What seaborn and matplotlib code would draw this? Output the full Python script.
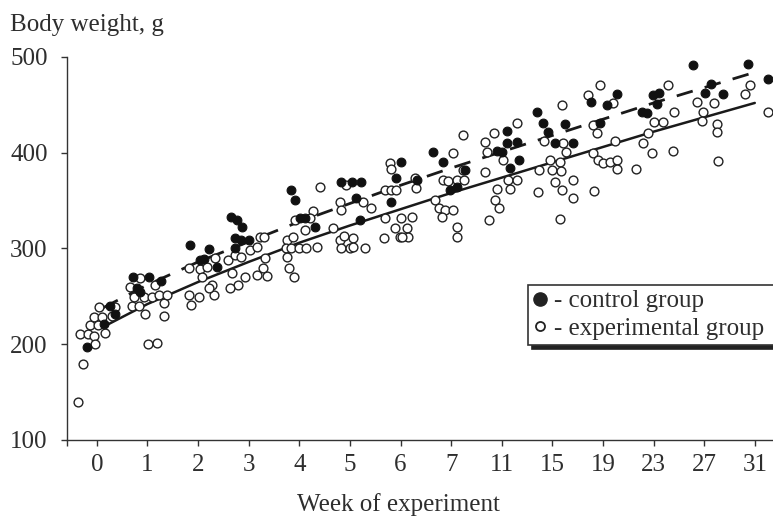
import pandas as pd
import seaborn as sns
import matplotlib.pyplot as plt
from matplotlib.lines import Line2D

# week labels, evenly spaced on the x axis
weeks = ['0', '1', '2', '3', '4', '5', '6', '7', '11', '15', '19', '23', '27', '31']

# control group (filled dots): position along the week axis and body weight
control_pos = [-0.20, 0.14, 0.26, 0.36,
               0.71, 1.03, 0.79, 0.85, 1.26,
               1.84, 2.21, 2.11, 2.04, 2.37,
               2.65, 2.77, 2.87, 2.73, 2.85, 3.00, 2.73,
               3.83, 3.91, 4.01, 4.11, 4.31,
               4.82, 5.04, 5.22, 5.12, 5.20,
               5.81, 5.91, 6.01, 6.32,
               6.64, 6.84, 7.27, 6.98, 7.11,
               7.91, 8.00, 8.10, 8.10, 8.30, 8.34, 8.16,
               8.70, 8.81, 8.91, 9.25, 9.05, 9.41,
               9.94, 9.76, 10.08, 10.28,
               10.77, 10.87, 10.99, 11.11, 11.07,
               11.78, 12.02, 12.13, 12.37,
               12.87, 13.26]
control_wt = [197, 221, 240, 232,
              270, 270, 259, 255, 266,
              304, 299, 289, 288, 281,
              333, 330, 322, 311, 309, 309, 300,
              361, 351, 332, 332, 322,
              369, 369, 369, 353, 330,
              349, 374, 390, 372,
              401, 390, 382, 361, 364,
              402, 401, 423, 410, 411, 392, 384,
              443, 431, 422, 430, 410, 410,
              431, 453, 450, 461,
              443, 441, 460, 462, 451,
              492, 462, 472, 461,
              493, 477]

# experimental group (open dots)
exp_pos = [-0.38, -0.28, -0.34, -0.18, -0.06, -0.04, -0.14, -0.06, 0.02, 0.10, 0.04, 0.16, 0.30, 0.36,
           0.65, 0.73, 0.69, 0.85, 0.93, 0.83, 0.95, 1.09, 1.15, 1.23, 1.32, 1.32, 1.01, 1.19, 1.38,
           1.82, 1.86, 2.02, 1.82, 2.04, 2.17, 2.33, 2.31, 2.27, 2.08, 2.21,
           2.59, 2.73, 2.85, 3.02, 3.16, 3.22, 3.30, 3.32, 3.28, 3.16, 3.36, 2.92, 2.79, 2.63, 2.67,
           3.75, 3.87, 3.74, 3.83, 3.99, 4.13, 4.35, 3.75, 3.79, 3.89, 4.11, 4.27, 4.21, 3.91, 4.41,
           4.80, 4.82, 4.66, 4.80, 4.88, 5.06, 4.82, 5.00, 5.06, 5.30, 4.92, 5.26, 5.42, 5.67,
           5.79, 5.81, 5.69, 5.81, 5.91, 5.89, 5.99, 6.01, 5.69, 6.23, 6.13, 6.15, 6.03, 6.30, 6.28,
           6.84, 6.94, 7.11, 7.23, 7.25, 7.04, 7.23, 6.68, 6.76, 6.88, 7.04, 6.82, 7.11, 7.11,
           7.67, 7.71, 7.85, 8.30, 8.02, 7.67, 8.12, 8.30, 7.91, 8.16, 7.87, 7.94, 7.75,
           9.19, 8.83, 9.21, 9.27, 8.95, 9.15, 8.74, 8.99, 9.17, 9.05, 9.41, 9.19, 8.72, 9.41, 9.15,
           9.70, 9.94, 10.20, 9.80, 9.88, 10.24, 9.80, 9.90, 10.00, 10.14, 10.28, 10.28, 10.65, 9.82,
           10.79, 10.89, 10.97, 11.01, 11.19, 11.40, 11.38, 11.28,
           11.86, 11.98, 11.96, 12.19, 12.25, 12.25, 12.27,
           12.81, 12.91, 13.26]
exp_wt = [140, 179, 211, 211, 209, 200, 220, 228, 220, 228, 239, 212, 230, 239,
          260, 249, 240, 269, 249, 240, 232, 249, 262, 251, 243, 229, 200, 201, 251,
          251, 241, 249, 280, 279, 281, 290, 251, 262, 270, 259,
          288, 293, 291, 298, 302, 312, 312, 290, 280, 272, 271, 270, 262, 259, 274,
          309, 312, 300, 300, 300, 300, 302, 291, 280, 270, 319, 339, 332, 330, 364,
          349, 340, 321, 309, 313, 311, 300, 300, 302, 300, 366, 349, 342, 311,
          389, 383, 361, 361, 361, 321, 312, 332, 332, 333, 321, 312, 312, 363, 374,
          372, 371, 372, 382, 372, 400, 419, 351, 342, 340, 340, 333, 322, 312,
          411, 401, 421, 431, 392, 380, 372, 372, 362, 362, 351, 342, 330,
          450, 412, 410, 401, 392, 390, 382, 382, 381, 369, 372, 361, 359, 353, 331,
          460, 471, 452, 429, 421, 412, 400, 392, 389, 390, 392, 383, 383, 360,
          410, 421, 400, 432, 432, 443, 402, 471,
          453, 443, 433, 452, 430, 422, 391,
          461, 471, 443]

# trend curves read at each week position
trend_pos = [0.12, 1, 2, 3, 4, 5, 6, 7, 8, 9, 10, 11, 12, 13]
control_trend = [238, 262, 286, 307, 328, 347, 366, 384, 401, 418, 435, 452, 468, 484]
exp_trend = [218, 242, 265, 286, 306, 324, 341, 358, 374, 390, 406, 422, 437, 452]

ctrl_df = pd.DataFrame({'pos': control_pos, 'weight': control_wt})
exp_df = pd.DataFrame({'pos': exp_pos, 'weight': exp_wt})
trend_df = pd.DataFrame({'pos': trend_pos, 'control': control_trend, 'exp': exp_trend})

sns.set_style('ticks')
plt.rcParams['font.family'] = ['Liberation Serif', 'DejaVu Serif']
text_col = '#2e2e2e'
fsize = 18

fig = plt.figure(figsize=(7.73, 5.18), dpi=100)
ax = fig.add_axes([0.0867, 0.1506, 0.9133, 0.7394])

sns.lineplot(data=trend_df, x='pos', y='control', ax=ax, color='#1a1a1a',
             linewidth=2, zorder=1)
ax.lines[-1].set_dashes([6, 4.5])
sns.lineplot(data=trend_df, x='pos', y='exp', ax=ax, color='#1a1a1a',
             linewidth=1.8, zorder=1)

sns.scatterplot(data=exp_df, x='pos', y='weight', ax=ax, s=40, marker='o',
                facecolor='white', edgecolor='#222222', linewidth=1.0, zorder=2)
sns.scatterplot(data=ctrl_df, x='pos', y='weight', ax=ax, s=40, marker='o',
                color='#111111', edgecolor='#111111', linewidth=0.8, zorder=3)

ax.set_xlim(-0.59, 13.36)
ax.set_ylim(100, 500)
ax.set_xticks(range(len(weeks)))
ax.set_xticklabels(weeks)
ax.set_xticks([-0.59], minor=True)
ax.set_yticks([100, 200, 300, 400, 500])
ax.tick_params(axis='both', which='both', direction='out', length=4, width=1,
               colors='#333333', labelcolor=text_col, labelsize=fsize)
ax.tick_params(axis='x', pad=6)
ax.tick_params(axis='y', pad=10)
ax.set_xlabel('')
ax.set_ylabel('')
for side in ['top', 'right']:
    ax.spines[side].set_visible(False)
for side in ['left', 'bottom']:
    ax.spines[side].set_color('#333333')
    ax.spines[side].set_linewidth(1.0)

fig.text(0.013, 0.94, 'Body weight, g', fontsize=fsize, color=text_col, ha='left', va='baseline')
fig.text(0.516, 0.014, 'Week of experiment', fontsize=fsize, color=text_col, ha='center', va='baseline')

# legend box runs off the right edge in the original
handles = [Line2D([], [], linestyle='none', marker='o', markersize=9.5,
                  markerfacecolor='#222222', markeredgecolor='#222222'),
           Line2D([], [], linestyle='none', marker='o', markersize=6.5,
                  markerfacecolor='white', markeredgecolor='#222222', markeredgewidth=1.3)]
leg = ax.legend(handles, ['- control group', '- experimental group   '],
                loc='upper left', bbox_to_anchor=(0.683, 0.450), bbox_transform=fig.transFigure,
                borderaxespad=0, fontsize=fsize, frameon=True, fancybox=False,
                handlelength=0.55, handletextpad=0.3, borderpad=0.2, labelspacing=0.2,
                shadow={'ox': 3, 'oy': -3, 'facecolor': '#222222', 'edgecolor': '#222222', 'alpha': 1})
leg.get_frame().set_edgecolor('#333333')
leg.get_frame().set_linewidth(1.2)
for t in leg.get_texts():
    t.set_color(text_col)

fig.savefig('out.png', dpi=100)
